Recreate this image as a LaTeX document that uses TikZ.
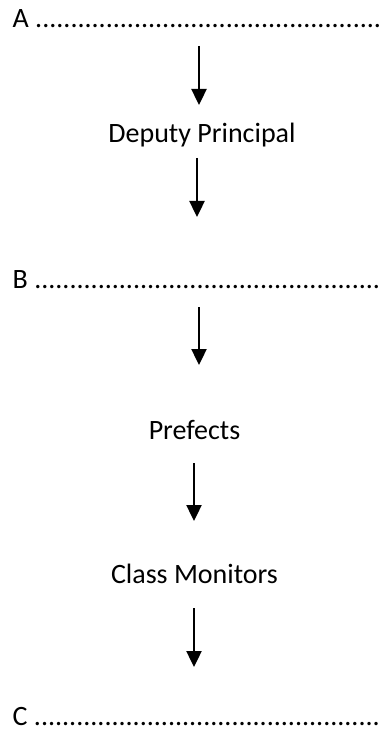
\documentclass[tikz,border=0pt]{standalone}
\usepackage{fontspec}
\setmainfont{Carlito}
\usetikzlibrary{arrows.meta}
\begin{document}
\begin{tikzpicture}[x=1pt,y=-1pt,
  lbl/.style={inner sep=0pt,anchor=base,font=\fontsize{28}{34}\selectfont},
  dotline/.style={inner sep=0pt,anchor=base west,font=\fontsize{28}{34}\selectfont},
  arr/.style={line width=2.4pt,-{Triangle[width=15pt,length=16pt]}}]
\useasboundingbox (0,0) rectangle (382,735);
\node[dotline] (a) at (12.5,28) {A .................................................};
\node[lbl] (dp) at (202,143) {Deputy Principal};
\node[dotline] (b) at (12.5,288) {B .................................................};
\node[lbl] (pf) at (194.5,439) {Prefects};
\node[lbl] (cm) at (194.5,583) {Class Monitors};
\node[dotline] (c) at (12.5,725) {C .................................................};
\coordinate (a1s) at (199,46);  \coordinate (a1e) at (199,105);
\coordinate (a2s) at (197,158); \coordinate (a2e) at (197,217);
\coordinate (a3s) at (199,307); \coordinate (a3e) at (199,365);
\coordinate (a4s) at (194,463); \coordinate (a4e) at (194,521);
\coordinate (a5s) at (194,608); \coordinate (a5e) at (194,667);
\draw[arr] (a1s) -- (a1e);
\draw[arr] (a2s) -- (a2e);
\draw[arr] (a3s) -- (a3e);
\draw[arr] (a4s) -- (a4e);
\draw[arr] (a5s) -- (a5e);
\end{tikzpicture}
\end{document}
